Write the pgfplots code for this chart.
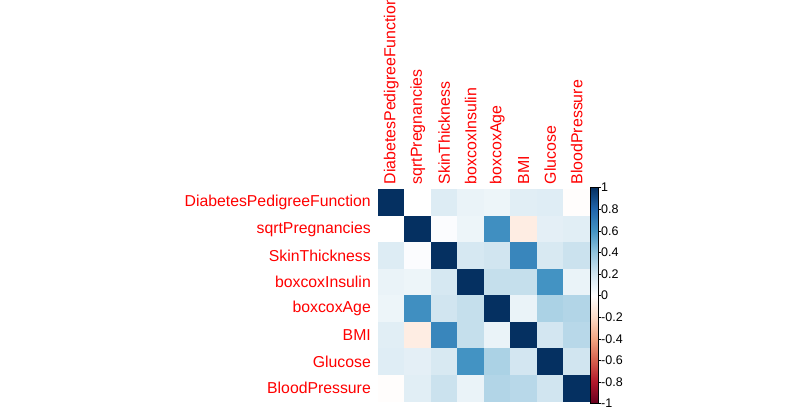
\documentclass[border=0pt]{standalone}
\usepackage{fontspec}
\setmainfont{Liberation Sans}
\usepackage{pgfplots}
\pgfplotsset{compat=1.18}

\pgfplotstableread{
x y c
1 1 1.00
2 1 0.00
3 1 0.15
4 1 0.09
5 1 0.08
6 1 0.13
7 1 0.14
8 1 -0.01
1 2 0.00
2 2 1.00
3 2 0.02
4 2 0.08
5 2 0.62
6 2 -0.10
7 2 0.12
8 2 0.13
1 3 0.15
2 3 0.02
3 3 1.00
4 3 0.18
5 3 0.20
6 3 0.66
7 3 0.17
8 3 0.22
1 4 0.09
2 4 0.08
3 4 0.18
4 4 1.00
5 4 0.24
6 4 0.24
7 4 0.60
8 4 0.09
1 5 0.08
2 5 0.62
3 5 0.20
4 5 0.24
5 5 1.00
6 5 0.09
7 5 0.32
8 5 0.30
1 6 0.13
2 6 -0.10
3 6 0.66
4 6 0.24
5 6 0.09
6 6 1.00
7 6 0.19
8 6 0.28
1 7 0.14
2 7 0.12
3 7 0.17
4 7 0.60
5 7 0.32
6 7 0.19
7 7 1.00
8 7 0.20
1 8 -0.01
2 8 0.13
3 8 0.22
4 8 0.09
5 8 0.30
6 8 0.28
7 8 0.20
8 8 1.00
}\corrdata

\begin{document}
\begin{tikzpicture}
\useasboundingbox (0bp,0bp) rectangle (809bp,411bp);
\clip (0bp,0bp) rectangle (809bp,411bp);
\begin{axis}[
    at={(378bp,9.5bp)}, anchor=south west,
    scale only axis, width=212bp, height=212bp,
    xmin=0.5, xmax=8.5, ymin=0.5, ymax=8.5,
    y dir=reverse,
    axis line style={draw=none},
    major tick length=0pt,
    xtick={1,...,8}, ytick={1,...,8},
    xticklabel pos=upper,
    xticklabels={DiabetesPedigreeFunction,sqrtPregnancies,SkinThickness,boxcoxInsulin,boxcoxAge,BMI,Glucose,BloodPressure},
    yticklabels={DiabetesPedigreeFunction,sqrtPregnancies,SkinThickness,boxcoxInsulin,boxcoxAge,BMI,Glucose,BloodPressure},
    xticklabel style={rotate=90, anchor=west, inner xsep=5bp, text=red, font=\fontsize{15.9bp}{18bp}\selectfont},
    yticklabel style={anchor=east, inner xsep=7bp, text=red, font=\fontsize{15.8bp}{18bp}\selectfont},
    colormap={rdbu}{rgb255(0)=(103,0,31) rgb255(1)=(178,24,43) rgb255(2)=(214,96,77) rgb255(3)=(244,165,130) rgb255(4)=(253,219,199) rgb255(5)=(255,255,255) rgb255(6)=(209,229,240) rgb255(7)=(146,197,222) rgb255(8)=(67,147,195) rgb255(9)=(33,102,172) rgb255(10)=(5,48,97)},
    point meta min=-1, point meta max=1,
    colorbar,
    colorbar style={
        at={(1,0.5)}, anchor=west, xshift=2bp, yshift=-2.5bp,
        width=8bp, height=216bp,
        ytick={-1,-0.8,-0.6,-0.4,-0.2,0,0.2,0.4,0.6,0.8,1},
        yticklabels={-1,-0.8,-0.6,-0.4,-0.2,0,0.2,0.4,0.6,0.8,1},
        ytick pos=right, yticklabel pos=right,
        tick align=outside, major tick length=2.5bp,
        tick style={black},
        axis line style={black},
        yticklabel style={inner xsep=0.5bp, font=\fontsize{12.5bp}{14bp}\selectfont},
    },
]
\addplot[matrix plot*, point meta=explicit, mesh/cols=8] table[x=x, y=y, meta=c] {\corrdata};
\end{axis}
\end{tikzpicture}
\end{document}
